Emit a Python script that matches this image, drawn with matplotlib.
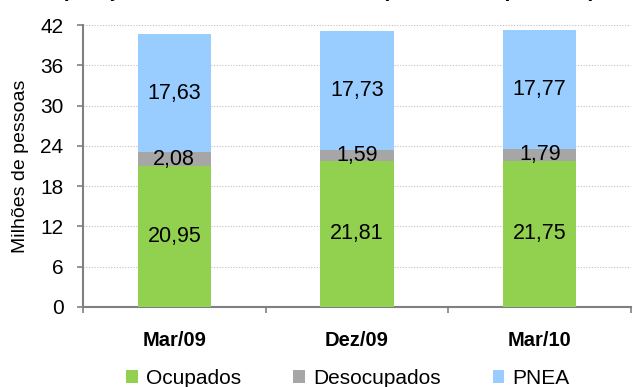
import matplotlib
matplotlib.use("Agg")
import matplotlib.pyplot as plt
import numpy as np

periodos = ["Mar/09", "Dez/09", "Mar/10"]
ocupados = [20.95, 21.81, 21.75]
desocupados = [2.08, 1.59, 1.79]
pnea = [17.63, 17.73, 17.77]

cores = {"Ocupados": "#92D050", "Desocupados": "#A6A6A6", "PNEA": "#99CCFF"}

plt.rcParams["font.family"] = ["Liberation Sans", "DejaVu Sans"]

fig = plt.figure(figsize=(6.33, 3.87), dpi=100)
ax = fig.add_axes([0.131, 0.207, 0.866, 0.728])

x = np.arange(len(periodos))
w = 0.4
base = np.zeros(len(periodos))
for nome, vals in [("Ocupados", ocupados), ("Desocupados", desocupados), ("PNEA", pnea)]:
    vals = np.array(vals)
    ax.bar(x, vals, w, bottom=base, color=cores[nome], label=nome, zorder=3)
    for xi, b, v in zip(x, base, vals):
        ax.text(xi, b + v / 2, f"{v:.2f}".replace(".", ","), ha="center", va="center",
                fontsize=15.5, zorder=4)
    base = base + vals

ax.set_xlim(-0.5, len(periodos) - 0.5)
ax.set_ylim(0, 42)
ax.set_yticks(range(0, 43, 6))
ax.yaxis.grid(True, linestyle=(0, (1, 1.5)), color="#BFBFBF", linewidth=0.8, zorder=0)
ax.set_axisbelow(True)

ax.set_xticks(x)
ax.set_xticklabels(periodos, fontsize=14.5, fontweight="bold")
ax.tick_params(axis="x", length=0, pad=17)
ax.set_xticks(np.arange(-0.5, len(periodos), 1), minor=True)
ax.tick_params(axis="x", which="minor", length=4, color="#808080", width=1.2)
ax.tick_params(axis="y", length=4, color="#808080", width=1.2, labelsize=15, pad=10)

for s in ["top", "right"]:
    ax.spines[s].set_visible(False)
for s in ["left", "bottom"]:
    ax.spines[s].set_color("#808080")
    ax.spines[s].set_linewidth(1.5)

ax.set_ylabel("Milhões de pessoas", fontsize=14, labelpad=8)

fig.text(0.5, 1.009, "População, Mar/09, Dez/09, Mar/10 (milhões de pessoas)",
         ha="center", va="baseline", fontsize=15, fontweight="bold")

fig.legend(loc="lower center", bbox_to_anchor=(0.55, -0.05), ncol=3, frameon=False,
           fontsize=15, handlelength=0.55, handleheight=0.55, columnspacing=2.5,
           handletextpad=0.4)

fig.savefig("out.png", dpi=100)
